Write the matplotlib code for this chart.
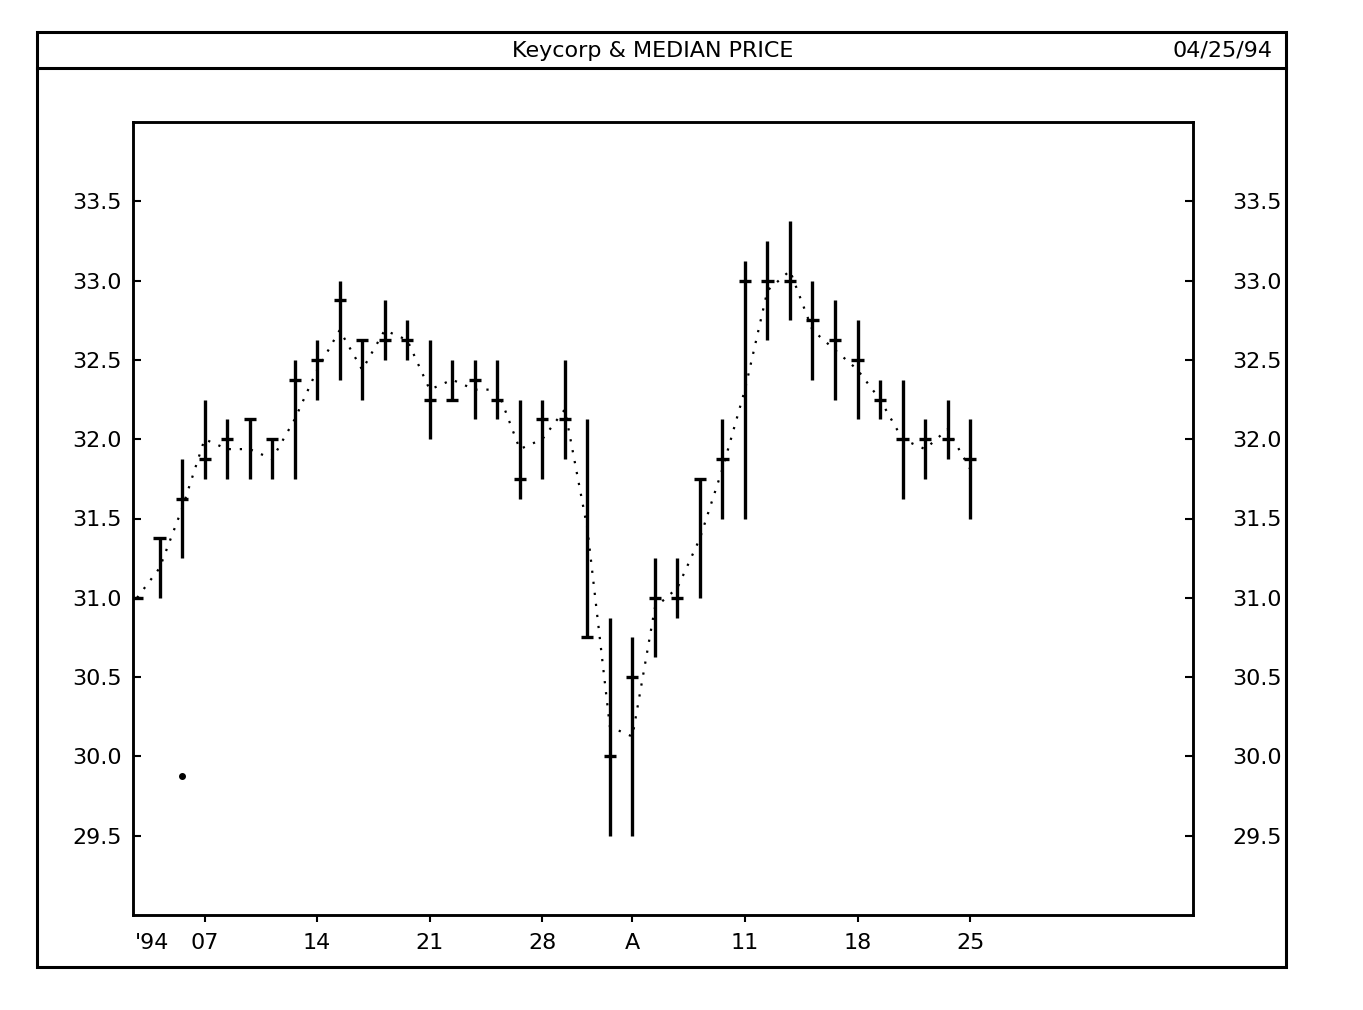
import matplotlib
matplotlib.use("Agg")
import matplotlib.pyplot as plt
from matplotlib.patches import Rectangle
from matplotlib.lines import Line2D

plt.rcParams['font.family'] = ['DejaVu Sans']

# daily bars, Keycorp, Mar 2 - Apr 25 1994 (trading days)
high = [31.0, 31.375, 31.875, 32.25, 32.125, 32.125, 32.0, 32.5, 32.625, 33.0,
        32.625, 32.875, 32.75, 32.625, 32.5, 32.5, 32.5, 32.25, 32.25, 32.5,
        32.125, 30.875, 30.75, 31.25, 31.25, 31.75, 32.125, 33.125, 33.25, 33.375,
        33.0, 32.875, 32.75, 32.375, 32.375, 32.125, 32.25, 32.125]
low = [31.0, 31.0, 31.25, 31.75, 31.75, 31.75, 31.75, 31.75, 32.25, 32.375,
       32.25, 32.5, 32.5, 32.0, 32.25, 32.125, 32.125, 31.625, 31.75, 31.875,
       30.75, 29.5, 29.5, 30.625, 30.875, 31.0, 31.5, 31.5, 32.625, 32.75,
       32.375, 32.25, 32.125, 32.125, 31.625, 31.75, 31.875, 31.5]
close = [31.0, 31.375, 31.625, 31.875, 32.0, 32.125, 32.0, 32.375, 32.5, 32.875,
         32.625, 32.625, 32.625, 32.25, 32.25, 32.375, 32.25, 31.75, 32.125, 32.125,
         30.75, 30.0, 30.5, 31.0, 31.0, 31.75, 31.875, 33.0, 33.0, 33.0,
         32.75, 32.625, 32.5, 32.25, 32.0, 32.0, 32.0, 31.875]
stray_x = [2]
stray_y = [29.875]

tick_idx = [3, 8, 13, 18, 22, 27, 32, 37]
tick_lab = ['07', '14', '21', '28', 'A', '11', '18', '25']
yticks = [29.5, 30.0, 30.5, 31.0, 31.5, 32.0, 32.5, 33.0, 33.5]

x = list(range(len(high)))
median = [(h + l) / 2 for h, l in zip(high, low)]

W, H = 1363, 1010
fig = plt.figure(figsize=(W / 100, H / 100), dpi=100)

# outer frame + title box
fig.patches.append(Rectangle((37 / W, 1 - 967 / H), (1286 - 37) / W, (967 - 32) / H,
                             transform=fig.transFigure, fill=False, lw=2.2, ec='black'))
fig.lines.append(Line2D([37 / W, 1286 / W], [1 - 68 / H, 1 - 68 / H],
                        transform=fig.transFigure, lw=2.2, color='black'))
fig.text(653 / W, 1 - 51 / H, 'Keycorp & MEDIAN PRICE', ha='center', va='center', fontsize=16)
fig.text(1272 / W, 1 - 51 / H, '04/25/94', ha='right', va='center', fontsize=16)

ax = fig.add_axes([133 / W, 1 - 915 / H, (1193 - 133) / W, (915 - 122) / H])
ax.vlines(x, low, high, color='black', lw=2.4)
ax.hlines(close, [i - 0.27 for i in x], [i + 0.27 for i in x], color='black', lw=2.4)
ax.plot(x, median, color='black', lw=1.6, linestyle=(0, (1, 4)))
ax.plot(stray_x, stray_y, 'o', color='black', ms=4)

ax.set_xlim(-0.18, 46.9)
ax.set_ylim(29.0, 34.0)
ax.set_xticks(tick_idx)
ax.set_xticklabels(tick_lab, fontsize=16)
ax.set_yticks(yticks)
ax.set_yticklabels(['%.1f' % v for v in yticks], fontsize=16)
ax.tick_params(axis='x', direction='out', length=5, width=1.5, pad=8)
ax.tick_params(axis='y', direction='in', length=6, width=1.5, pad=8)
ax.annotate("'94", xy=(0.65, 0), xycoords=('data', 'axes fraction'),
            xytext=(0, -13), textcoords='offset points', ha='center', va='top', fontsize=16)

ax2 = ax.twinx()
ax2.set_ylim(29.0, 34.0)
ax2.set_yticks(yticks)
ax2.set_yticklabels(['%.1f' % v for v in yticks], fontsize=16)
ax2.tick_params(axis='y', direction='in', length=6, width=1.5, pad=28)

for a in (ax, ax2):
    for s in a.spines.values():
        s.set_linewidth(1.8)

fig.savefig('out.png', dpi=100)
